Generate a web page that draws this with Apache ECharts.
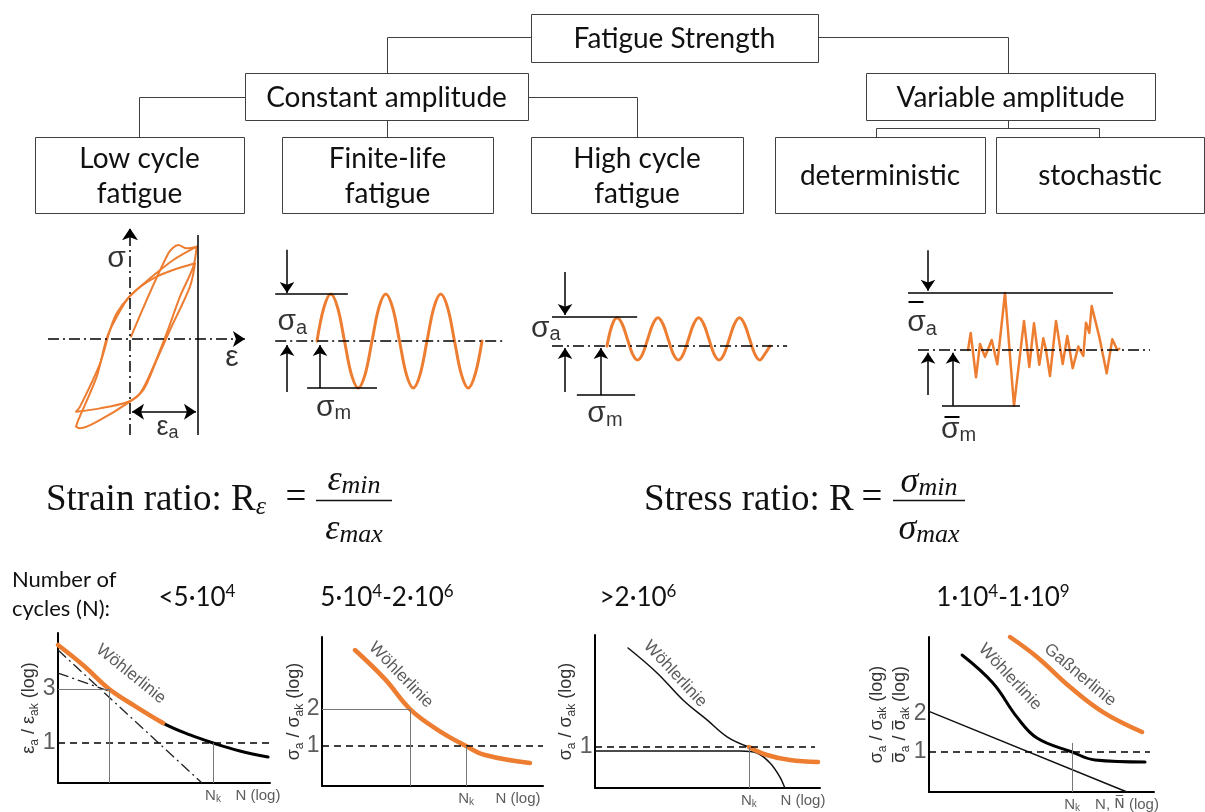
<!DOCTYPE html>
<html>
<head>
<meta charset="utf-8">
<title>Fatigue Strength</title>
<script src="https://cdn.jsdelivr.net/npm/echarts@6.0.0/dist/echarts.min.js"></script>
<style>
  html, body { margin: 0; padding: 0; background: #fff; }
  #chart { width: 1205px; height: 812px; }
</style>
</head>
<body>
<div id="chart"></div>
<script>
// ---------------- classification tree ----------------
const treeLabels = ['Fatigue Strength', 'Constant amplitude', 'Variable amplitude',
  'Low cycle\nfatigue', 'Finite-life\nfatigue', 'High cycle\nfatigue', 'deterministic', 'stochastic'];

// ---------------- low cycle fatigue: σ-ε hysteresis (ε in units of ε_a) ----------------
const virginCurve = [[0.015, 0.034], [0.564, 1.26], [0.711, 1.382], [0.833, 1.333], [0.98, 1.358]];
const loopOuter = [[-0.794, -1.069], [-0.735, -0.995], [-0.44, -0.358], [-0.294, 0.132], [-0.196, 0.377],
  [0, 0.632], [0.294, 0.892], [0.637, 1.162], [0.98, 1.358], [0.931, 1.064], [0.735, 0.623],
  [0.539, 0.083], [0.343, -0.407], [0.147, -0.799], [-0.025, -0.922], [-0.44, -1.02], [-0.794, -1.069]];
const loopInner = [[-0.794, -1.289], [-0.76, -1.191], [-0.49, -0.554], [-0.343, 0.01], [-0.22, 0.279],
  [0, 0.632], [0.392, 0.917], [0.956, 1.113], [0.882, 0.77], [0.588, 0.132], [0.392, -0.309],
  [0.196, -0.75], [-0.025, -0.936], [-0.44, -1.191], [-0.735, -1.314], [-0.794, -1.289]];

// ---------------- finite-life: constant amplitude load (time in cycles) ----------------
const finiteT = [0, 0.125, 0.25, 0.375, 0.5, 0.625, 0.75, 0.875, 1, 1.125, 1.25, 1.375, 1.5, 1.625, 1.75, 1.875,
  2, 2.125, 2.25, 2.375, 2.5, 2.625, 2.75, 2.875, 3];
const finiteS = [0, 0.71, 1, 0.71, 0, -0.71, -1, -0.71, 0, 0.71, 1, 0.71, 0, -0.71, -1, -0.71,
  0, 0.71, 1, 0.71, 0, -0.71, -1, -0.71, 0];

// ---------------- high cycle: constant amplitude load with mean stress ----------------
const highT = [0, 0.125, 0.25, 0.375, 0.5, 0.625, 0.75, 0.875, 1, 1.125, 1.25, 1.375, 1.5, 1.625, 1.75, 1.875,
  2, 2.125, 2.25, 2.375, 2.5, 2.625, 2.75, 2.875, 3, 3.125, 3.25, 3.375, 3.5, 3.625, 3.75, 3.875, 4];
const highS = [0, 0.72, 0.97, 0.75, 0.24, -0.27, -0.48, -0.27, 0.24, 0.75, 0.97, 0.75, 0.24, -0.27, -0.48, -0.27,
  0.24, 0.75, 0.97, 0.75, 0.24, -0.27, -0.48, -0.27, 0.24, 0.75, 0.97, 0.75, 0.24, -0.27, -0.48, -0.27, 0];

// ---------------- stochastic load history [time, stress / σ̄a] ----------------
const randomLoad = [[0, 0], [0.27, 0.30], [0.8, -0.48], [1.2, 0.105], [1.7, -0.12], [2.37, 0.175], [2.93, -0.25],
  [3.7, 1.0], [4.6, -0.98], [5.6, 0.51], [6.13, -0.30], [6.6, 0.47], [7.13, -0.26], [7.53, 0.205], [7.77, 0.03],
  [8.2, -0.456], [8.8, 0.51], [9.47, -0.246], [9.93, 0.246], [10.47, -0.32], [11.03, 0.06], [11.53, -0.105],
  [11.8, 0.48], [12.13, 0.30], [12.37, 0.77], [13.13, 0.23], [13.87, -0.41], [14.43, 0.19], [14.93, 0.0], [15.13, 0.02]];

// ---------------- number of cycles per regime ----------------
const cycleRanges = ['<5·10^4', '5·10^4-2·10^6', '>2·10^6', '1·10^4-1·10^9'];

// ---------------- S-N diagrams [log N (axis units), amplitude ratio] ----------------
const sn1Strain = [[0, 7.34], [1.23, 4.79], [2.41, 3.0], [3.63, 2.12], [4.95, 1.5]];
const sn1Woehler = [[2.41, 3.0], [3.63, 2.12], [4.95, 1.5], [6.23, 1.177], [7.31, 1], [8.58, 0.85], [9.91, 0.752]];
const sn1Elastic = [[0, 6.63], [6.79, 0.443]];
const sn1Plastic = [[0, 4.15], [2.6, 2.79]];
const sn1Ticks = [1, 3];
const sn1Ref = [2.41, 3];
const sn1Nk = 7.31;

const sn2Woehler = [[1.49, 6.04], [2.85, 3.5], [3.98, 2.0], [5.25, 1.35], [6.52, 1], [7.38, 0.845], [9.41, 0.727]];
const sn2Ticks = [1, 2];
const sn2Ref = [3.98, 2];
const sn2Nk = 6.52;

const sn3Woehler = [[1.47, 6.38], [2.76, 4.0], [3.91, 2.41], [4.98, 1.66], [5.87, 1.21], [6.84, 1]];
const sn3Endurance = [[6.84, 1], [7.64, 0.861], [8.67, 0.784], [9.91, 0.755]];
const sn3Limit = [[0, 0.928], [6.44, 0.928], [7.2, 0.894], [7.78, 0.741], [8.22, 0.57], [8.44, 0.464]];
const sn3Ticks = [1];
const sn3Nk = 6.84;

const sn4Woehler = [[1.47, 5.87], [2.84, 3.52], [3.91, 1.89], [4.8, 1.29], [6.36, 1], [7.38, 0.864], [9.6, 0.833]];
const sn4Gassner = [[3.6, 8.15], [4.8, 5.66], [6.27, 3.27], [7.73, 2.07], [9.47, 1.44]];
const sn4Spectrum = [[0, 2.1], [8.8, 0.482]];
const sn4Ticks = [1, 2];
const sn4Nk = 6.36;

// ---------------- styling ----------------
const ORANGE = '#ED7D31';
const SANS = 'Liberation Sans';
const MARKED = 'DejaVu Sans';
const TREE = 'Lato';
const SERIF = 'Liberation Serif';
const DASHDOT = [11, 4, 2, 4];
const DASHED = [7, 5];

const RICH = {
  g: { fontFamily: SANS, fontSize: 30, lineHeight: 32, color: '#000' },
  s: { fontFamily: SANS, fontSize: 20, lineHeight: 15, color: '#000', verticalAlign: 'bottom' },
  e: { fontFamily: SANS, fontSize: 27, lineHeight: 30, color: '#000' },
  es: { fontFamily: SANS, fontSize: 18, lineHeight: 13, color: '#000', verticalAlign: 'bottom' },
  t: { fontFamily: SANS, fontSize: 23, lineHeight: 24, color: '#333' },
  n: { fontFamily: SANS, fontSize: 15, lineHeight: 18, color: '#333' },
  o: { fontFamily: MARKED, fontSize: 14, lineHeight: 18, color: '#333' },
  k: { fontFamily: SANS, fontSize: 10, lineHeight: 8, color: '#333', verticalAlign: 'bottom' },
  w: { fontFamily: SANS, fontSize: 17, color: '#333' }
};
const TITLE_RICH = {
  a: { fontFamily: SANS, fontSize: 18, lineHeight: 23, color: '#333' },
  o: { fontFamily: MARKED, fontSize: 17, lineHeight: 23, color: '#333' },
  b: { fontFamily: SANS, fontSize: 12, lineHeight: 10, color: '#333', verticalAlign: 'bottom' }
};

// ---------------- builders ----------------
const grids = [], xAxes = [], yAxes = [], series = [];

function hiddenPanel(box, xr, yr) {
  const gi = grids.length;
  grids.push({ left: box[0], top: box[1], width: box[2], height: box[3], outerBoundsMode: 'none', containLabel: false });
  xAxes.push({ gridIndex: gi, type: 'value', min: xr[0], max: xr[1], show: false });
  yAxes.push({ gridIndex: gi, type: 'value', min: yr[0], max: yr[1], show: false });
  return gi;
}

function snPanel(box, yr, name, gap) {
  const gi = grids.length;
  const axisLine = { show: true, onZero: false, lineStyle: { color: '#000', width: 2 } };
  grids.push({ left: box[0], top: box[1], width: box[2], height: box[3], outerBoundsMode: 'none', containLabel: false });
  xAxes.push({ gridIndex: gi, type: 'value', min: 0, max: 10, axisLine, axisTick: { show: false },
    axisLabel: { show: false }, splitLine: { show: false } });
  yAxes.push({ gridIndex: gi, type: 'log', logBase: 10, min: yr[0], max: yr[1], axisLine,
    axisTick: { show: false }, axisLabel: { show: false }, splitLine: { show: false }, minorSplitLine: { show: false },
    name, nameLocation: 'middle', nameRotate: 90, nameGap: gap, nameTextStyle: { rich: TITLE_RICH } });
  return gi;
}

function curve(gi, data, color, width, extra) {
  return Object.assign({ type: 'line', xAxisIndex: gi, yAxisIndex: gi, data, symbol: 'none', silent: true,
    smooth: 0.4, clip: false, lineStyle: { color, width, cap: 'round', join: 'round' }, z: 3 }, extra || {});
}

function seg(p, q, opt) {
  opt = opt || {};
  return [{ coord: p, symbol: opt.s0 || 'none', lineStyle: Object.assign({ color: '#000', width: 1.5, type: 'solid' }, opt.style || {}) },
    { coord: q, symbol: opt.s1 || 'none' }];
}

function marks(segs, size) {
  return { silent: true, animation: false, label: { show: false }, symbolSize: size || 11,
    emphasis: { disabled: true }, data: segs };
}

function textMarks(gi, items) {
  return { type: 'scatter', xAxisIndex: gi, yAxisIndex: gi, silent: true, z: 6, symbolSize: 1,
    itemStyle: { color: 'rgba(0,0,0,0)' },
    data: items.map(it => ({ value: [it[0], it[1]],
      label: Object.assign({ show: true, position: 'inside', formatter: it[2], rich: RICH }, it[3] || {}) })) };
}

const sup = s => s.replace(/\^(\d+)/g, '{p|$1}');

// ---------------- panel: hysteresis ----------------
const gH = hiddenPanel([34.8, 223.4, 217.6, 217.6], [-1.4, 1.8], [-1.5, 1.7]);
series.push(curve(gH, loopOuter, ORANGE, 2, { smooth: 0.3,
  markLine: marks([
    seg([-1.206, 0], [1.69, 0], { s1: 'arrow', style: { type: DASHDOT } }),
    seg([0, -1.41], [0, 1.63], { s1: 'arrow', style: { type: DASHDOT } }),
    seg([1, -1.41], [1, 1.53]),
    seg([0.03, -1.07], [0.97, -1.07], { s0: 'arrow', s1: 'arrow' })
  ], 12) }));
series.push(curve(gH, loopInner, ORANGE, 2, { smooth: 0.3 }));
series.push(curve(gH, virginCurve, ORANGE, 2, { smooth: 0.3 }));
series.push(textMarks(gH, [
  [-0.2, 1.18, '{g|σ}'],
  [1.5, -0.27, '{g|ε}'],
  [0.55, -1.3, '{e|ε}{es|a}']
]));

// ---------------- panel: finite-life ----------------
const gF = hiddenPanel([262, 247, 253, 188], [-1, 3.6], [-2, 2]);
series.push(curve(gF, finiteT.map((t, i) => [t, finiteS[i]]), ORANGE, 3, { smooth: 0.35,
  markLine: marks([
    seg([-0.545, 1.94], [-0.545, 1.02], { s1: 'arrow' }),
    seg([-0.76, 1], [0.56, 1]),
    seg([-0.76, 0], [3.38, 0], { style: { type: DASHDOT } }),
    seg([-0.545, -1.085], [-0.545, -0.085], { s1: 'arrow' }),
    seg([0.055, -1.0], [0.055, -0.085], { s1: 'arrow' }),
    seg([-0.18, -1.0], [1.09, -1.0])
  ], 11) }));
series.push(textMarks(gF, [
  [-0.45, 0.4, '{g|σ}{s|a}'],
  [0.3, -1.42, '{g|σ}{s|m}']
]));

// ---------------- panel: high cycle ----------------
const gC = hiddenPanel([525.5, 259, 285.25, 159.5], [-2, 5], [-2.5, 3]);
series.push(curve(gC, highT.map((t, i) => [t, highS[i]]), ORANGE, 3, { smooth: 0.35,
  markLine: marks([
    seg([-1.03, 2.55], [-1.03, 1.07], { s1: 'arrow' }),
    seg([-1.35, 1], [0.74, 1]),
    seg([-1.35, 0], [4.42, 0], { style: { type: DASHDOT } }),
    seg([-1.03, -1.59], [-1.03, -0.07], { s1: 'arrow' }),
    seg([-0.15, -1.69], [-0.15, -0.07], { s1: 'arrow' }),
    seg([-0.74, -1.69], [0.69, -1.69])
  ], 11) }));
series.push(textMarks(gC, [
  [-1.5, 0.6, '{g|σ}{s|a}'],
  [-0.05, -2.35, '{g|σ}{s|m}']
]));

// ---------------- panel: stochastic ----------------
const gR = hiddenPanel([898, 241.7, 270, 199.5], [-7, 20], [-1.6, 1.9]);
series.push(curve(gR, randomLoad, ORANGE, 2.5, { smooth: false,
  markLine: marks([
    seg([-4.0, 1.75], [-4.0, 1.04], { s1: 'arrow' }),
    seg([-6.0, 1], [14.5, 1]),
    seg([-5.0, 0], [18.2, 0], { style: { type: DASHDOT } }),
    seg([-4.0, -0.79], [-4.0, -0.05], { s1: 'arrow' }),
    seg([-1.5, -0.98], [-1.5, -0.05], { s1: 'arrow' }),
    seg([-2.6, -0.98], [5.2, -0.98]),
    // bars over the mean-value symbols
    seg([-5.95, 0.84], [-4.45, 0.84], { style: { width: 2 } }),
    seg([-2.35, -1.17], [-0.85, -1.17], { style: { width: 2 } })
  ], 11) }));
series.push(textMarks(gR, [
  [-4.6, 0.47, '{g|σ}{s|a}'],
  [-0.95, -1.4, '{g|σ}{s|m}']
]));

// ---------------- S-N panels ----------------
function snLabels(gi, ticks, yMin, nk, nLogX, nLogText, extra) {
  const items = ticks.map(v => [0, v, '{t|' + v + '}', { position: 'left', distance: 2 }]);
  items.push([nk, yMin, '{n|N}{k|k}', { position: 'bottom', distance: 3 }]);
  items.push([nLogX, yMin, nLogText, { position: 'bottom', distance: 3 }]);
  return textMarks(gi, items.concat(extra || []));
}

// 1: low cycle
const y1 = [0.443, 9.37];
const g1 = snPanel([58, 633, 212, 150], y1, '{a|ε}{b|a}{a| / ε}{b|ak}{a| (log)}', 17);
series.push(curve(g1, sn1Elastic, '#222', 1.3, { smooth: false, z: 2, lineStyle: { color: '#222', width: 1.3, type: DASHDOT },
  markLine: marks([
    seg([0, 1], [10, 1], { style: { type: DASHED, width: 1.5 } }),
    seg([0, sn1Ref[1]], sn1Ref, { style: { color: '#777', width: 1 } }),
    seg(sn1Ref, [sn1Ref[0], y1[0]], { style: { color: '#777', width: 1 } }),
    seg([sn1Nk, 1], [sn1Nk, y1[0]], { style: { color: '#777', width: 1 } })
  ]) }));
series.push(curve(g1, sn1Plastic, '#222', 1.3, { smooth: false, z: 2, lineStyle: { color: '#222', width: 1.3, type: DASHDOT } }));
series.push(curve(g1, sn1Woehler, '#000', 3));
series.push(curve(g1, sn1Strain, ORANGE, 4.5, { z: 4 }));
series.push(snLabels(g1, sn1Ticks, y1[0], sn1Nk, 9.43, '{n|N (log)}', [[3.44, 4.07, '{w|Wöhlerlinie}', { rotate: -39 }]]));

// 2: finite life
const y2 = [0.473, 7.71];
const g2 = snPanel([322, 637, 221, 149], y2, '{a|σ}{b|a}{a| / σ}{b|ak}{a| (log)}', 16);
series.push(curve(g2, sn2Woehler, ORANGE, 4.5, { z: 4,
  markLine: marks([
    seg([0, 1], [10, 1], { style: { type: DASHED, width: 1.5 } }),
    seg([0, sn2Ref[1]], sn2Ref, { style: { color: '#777', width: 1 } }),
    seg(sn2Ref, [sn2Ref[0], y2[0]], { style: { color: '#777', width: 1 } }),
    seg([sn2Nk, 1], [sn2Nk, y2[0]], { style: { color: '#777', width: 1 } })
  ]) }));
series.push(snLabels(g2, sn2Ticks, y2[0], sn2Nk, 8.87, '{n|N (log)}', [[3.57, 3.78, '{w|Wöhlerlinie}', { rotate: -46 }]]));

// 3: high cycle
const y3 = [0.464, 8.14];
const g3 = snPanel([595, 635, 225, 153], y3, '{a|σ}{b|a}{a| / σ}{b|ak}{a| (log)}', 17);
series.push(curve(g3, sn3Limit, '#111', 1.5, { smooth: 0.3,
  markLine: marks([
    seg([0, 1], [9.78, 1], { style: { type: DASHED, width: 1.5 } }),
    seg([sn3Nk, 1], [sn3Nk, y3[0]], { style: { color: '#777', width: 1 } })
  ]) }));
series.push(curve(g3, sn3Woehler, '#111', 1.5));
series.push(curve(g3, sn3Endurance, ORANGE, 4.5, { z: 4 }));
series.push(snLabels(g3, sn3Ticks, y3[0], sn3Nk, 9.24, '{n|N (log)}', [[3.56, 3.92, '{w|Wöhlerlinie}', { rotate: -47 }]]));

// 4: variable amplitude
const y4 = [0.482, 8.15];
const g4 = snPanel([929, 637, 225, 155], y4,
  '{a|σ}{b|a}{a| / σ}{b|ak}{a| (log)}\n{o|σ\u0305}{b|a}{a| / }{o|σ\u0305}{b|ak}{a| (log)}', 17);
series.push(curve(g4, sn4Spectrum, '#111', 1.5, { smooth: false,
  markLine: marks([
    seg([0, 1], [9.82, 1], { style: { type: DASHED, width: 1.5 } }),
    seg([sn4Nk, 1.18], [sn4Nk, y4[0]], { style: { color: '#777', width: 1 } })
  ]) }));
series.push(curve(g4, sn4Woehler, '#000', 3));
series.push(curve(g4, sn4Gassner, ORANGE, 4.5, { z: 4 }));
series.push(snLabels(g4, sn4Ticks, y4[0], sn4Nk, 8.8, '{n|N, }{o|N\u0305}{n| (log)}', [
  [3.6, 3.93, '{w|Wöhlerlinie}', { rotate: -47 }],
  [6.71, 4.07, '{w|Gaßnerlinie}', { rotate: -40 }]
]));

// ---------------- graphic: tree, formulas, captions ----------------
const graphic = [];
const treeBoxes = [[531, 14, 287, 48], [245, 73, 283, 47], [866, 73, 289, 47],
  [35, 137, 209, 76], [282, 137, 211, 76], [531, 137, 212, 76], [775, 137, 210, 76], [996, 137, 208, 76]];
const treeLinks = [
  [[531, 37.5], [387.5, 37.5], [387.5, 73]],
  [[818, 37.5], [1008.5, 37.5], [1008.5, 73]],
  [[245, 97.5], [139.5, 97.5], [139.5, 137]],
  [[528, 97.5], [637.5, 97.5], [637.5, 137]],
  [[387.5, 120], [387.5, 137]],
  [[1008.5, 120], [1008.5, 128.5]],
  [[876.5, 137], [876.5, 128.5], [1099.5, 128.5], [1099.5, 137]]
];
treeLinks.forEach(pts => graphic.push({ type: 'polyline', shape: { points: pts },
  style: { stroke: '#404040', lineWidth: 1, fill: null } }));
treeLabels.forEach((t, i) => {
  const b = treeBoxes[i];
  graphic.push({ type: 'rect', shape: { x: b[0] + 0.5, y: b[1] + 0.5, width: b[2], height: b[3] },
    style: { fill: '#fff', stroke: '#404040', lineWidth: 1 } });
  graphic.push({ type: 'text', x: b[0] + b[2] / 2, y: b[1] + b[3] / 2 + 1,
    style: { text: t, font: '28px ' + TREE, fill: '#111', lineHeight: 35,
      align: 'center', verticalAlign: 'middle', textAlign: 'center', textVerticalAlign: 'middle' } });
});

function gtext(x, y, text, font, align, rich) {
  graphic.push({ type: 'text', x, y, style: { text, font, fill: '#111', rich,
    align: align || 'center', verticalAlign: 'middle', textAlign: align || 'center', textVerticalAlign: 'middle' } });
}
const FR = {
  m: { fontFamily: SERIF, fontSize: 37, lineHeight: 40, color: '#111' },
  r: { fontFamily: SERIF, fontStyle: 'italic', fontSize: 26, lineHeight: 20, color: '#111', verticalAlign: 'bottom' },
  i: { fontFamily: SERIF, fontStyle: 'italic', fontSize: 36, lineHeight: 36, color: '#111' },
  s: { fontFamily: SERIF, fontStyle: 'italic', fontSize: 26, lineHeight: 18, color: '#111', verticalAlign: 'bottom' }
};
// strain ratio
gtext(46, 500, '{m|Strain ratio: R}{r|ε}', '37px ' + SERIF, 'left', FR);
gtext(296, 498, '=', '37px ' + SERIF);
gtext(354, 481, '{i|ε}{s|min}', '36px ' + SERIF, 'center', FR);
gtext(354, 530, '{i|ε}{s|max}', '36px ' + SERIF, 'center', FR);
graphic.push({ type: 'line', shape: { x1: 316, y1: 500.5, x2: 392, y2: 500.5 }, style: { stroke: '#111', lineWidth: 1.5 } });
// stress ratio
gtext(644, 500, '{m|Stress ratio: R}', '37px ' + SERIF, 'left', FR);
gtext(872, 498, '=', '37px ' + SERIF);
gtext(929, 483, '{i|σ}{s|min}', '36px ' + SERIF, 'center', FR);
gtext(929, 530, '{i|σ}{s|max}', '36px ' + SERIF, 'center', FR);
graphic.push({ type: 'line', shape: { x1: 893, y1: 500.5, x2: 965, y2: 500.5 }, style: { stroke: '#111', lineWidth: 1.5 } });

// cycle counts
gtext(12, 580, 'Number of', '22px ' + TREE, 'left');
gtext(12, 609, 'cycles (N):', '22px ' + TREE, 'left');
const RR = {
  r: { fontFamily: TREE, fontSize: 26, lineHeight: 30, color: '#111' },
  p: { fontFamily: TREE, fontSize: 17, lineHeight: 15, color: '#111', verticalAlign: 'top' }
};
const rangeX = [197, 387, 638, 1003];
cycleRanges.forEach((s, i) => gtext(rangeX[i], 598, '{r|' + sup(s).replace(/\{p\|(\d+)\}/g, '}{p|$1}{r|') + '}', '26px ' + TREE, 'center', RR));

// ---------------- render ----------------
const chart = echarts.init(document.getElementById('chart'));
chart.setOption({
  animation: false,
  backgroundColor: '#fff',
  grid: grids, xAxis: xAxes, yAxis: yAxes, series, graphic
});
</script>
</body>
</html>
